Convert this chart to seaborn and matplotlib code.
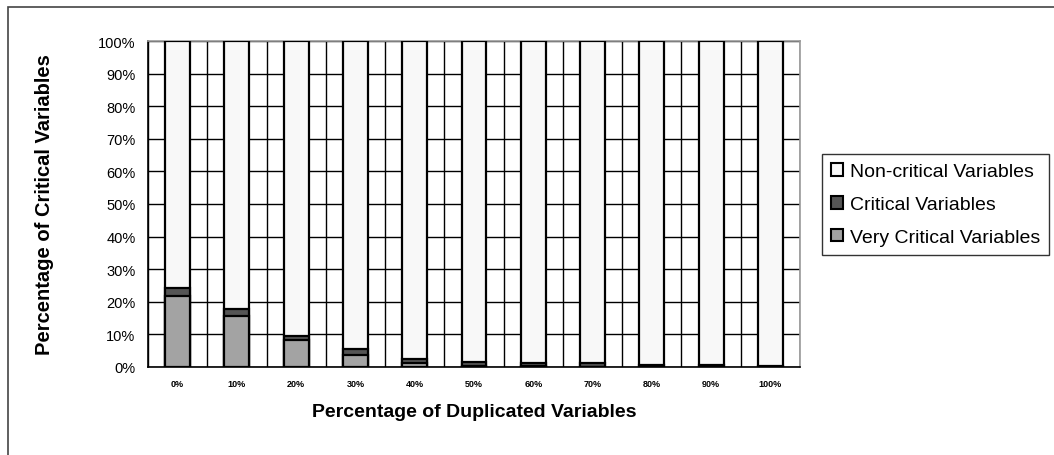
import numpy as np
import pandas as pd
import matplotlib
matplotlib.use("Agg")
import matplotlib.pyplot as plt
import seaborn as sns
from matplotlib.patches import Patch, Rectangle
from matplotlib.ticker import PercentFormatter

duplicated = ['0%', '10%', '20%', '30%', '40%', '50%', '60%', '70%', '80%', '90%', '100%']
very_critical = [21.8, 15.6, 8.2, 3.8, 1.2, 0.3, 0.2, 0.1, 0.0, 0.0, 0.0]
critical = [2.3, 2.1, 1.4, 1.6, 1.2, 1.2, 1.0, 1.0, 0.6, 0.6, 0.4]

df = pd.DataFrame({'dup': duplicated, 'very': very_critical, 'crit': critical})
df['very_crit'] = df['very'] + df['crit']
df['total'] = 100.0

sns.set_style('white')
plt.rcParams['font.family'] = ['Liberation Sans', 'DejaVu Sans']
plt.rcParams['text.color'] = 'black'
plt.rcParams['axes.labelcolor'] = 'black'
plt.rcParams['xtick.color'] = 'black'
plt.rcParams['ytick.color'] = 'black'

fig = plt.figure(figsize=(10.54, 4.56), dpi=100)
ax = fig.add_axes([148 / 1054, 1 - 368 / 456, 652 / 1054, 326 / 456])

# outer chart border
fig.patches.append(Rectangle((8 / 1054, -0.1), 1.2, (456 - 8) / 456 + 0.1,
                             transform=fig.transFigure, fill=False,
                             edgecolor='#444444', linewidth=1.2))

colors = {'total': '#f8f8f8', 'very_crit': '#555555', 'very': '#a3a3a3'}
for col in ['total', 'very_crit', 'very']:
    sns.barplot(data=df, x='dup', y=col, color=colors[col], saturation=1,
                edgecolor='black', linewidth=1.6, width=0.42, ax=ax, zorder=3)

ax.set_xlim(-0.5, len(duplicated) - 0.5)
ax.set_ylim(0, 100)
ax.set_yticks(np.arange(0, 101, 10))
ax.yaxis.set_major_formatter(PercentFormatter(decimals=0))
ax.set_xticks(np.arange(-0.5, len(duplicated), 1), minor=True)
ax.tick_params(axis='x', which='major', length=0, labelsize=6.5, pad=9)
ax.tick_params(axis='x', which='minor', length=5, width=1, direction='out', color='black')
ax.tick_params(axis='y', length=5, width=1, direction='out', color='black', labelsize=10.5, pad=4)
for lab in ax.get_xticklabels():
    lab.set_fontweight('bold')

ax.grid(axis='y', which='major', color='black', linewidth=1, zorder=1)
ax.grid(axis='x', which='minor', color='black', linewidth=1, zorder=1)
ax.set_axisbelow(True)

for side in ['top', 'right']:
    ax.spines[side].set_color('#999999')
    ax.spines[side].set_linewidth(1.2)
for side in ['left', 'bottom']:
    ax.spines[side].set_color('black')
    ax.spines[side].set_linewidth(1.2)

ax.set_xlabel('Percentage of Duplicated Variables', fontsize=14, fontweight='bold')
ax.set_ylabel('Percentage of Critical Variables', fontsize=14.5, fontweight='bold')
ax.xaxis.set_label_coords(0.5, (368 - 404) / 326)
ax.yaxis.set_label_coords((54 - 148) / 652, 0.5)

handles = [Patch(facecolor=colors['total'], edgecolor='black', linewidth=1.5, label='Non-critical Variables'),
           Patch(facecolor=colors['very_crit'], edgecolor='black', linewidth=1.5, label='Critical Variables'),
           Patch(facecolor=colors['very'], edgecolor='black', linewidth=1.5, label='Very Critical Variables')]
leg = fig.legend(handles=handles, loc='upper left', bbox_to_anchor=(822 / 1054, 1 - 155 / 456),
                 fontsize=14, frameon=True, fancybox=False, handlelength=0.65, handleheight=0.65,
                 handletextpad=0.35, borderpad=0.45, labelspacing=0.8, borderaxespad=0)
leg.get_frame().set_edgecolor('black')
leg.get_frame().set_linewidth(1.0)

fig.savefig('out.png', dpi=100)
